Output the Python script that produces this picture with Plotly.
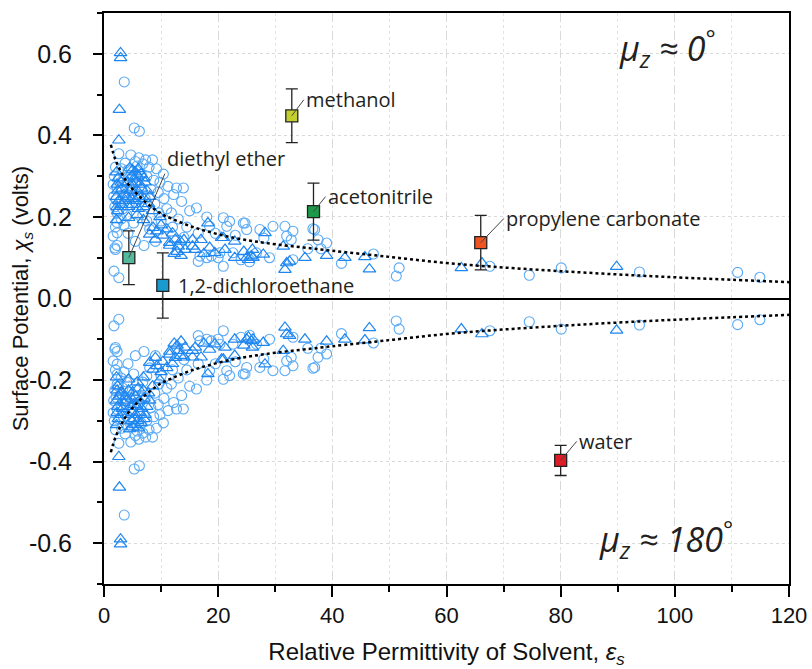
import plotly.graph_objects as go

# ---------------- data (upper branch, mu_z ~ 0 deg; lower branch is its mirror) -------------
circle_eps = [3.55, 5.3, 6.2,
              2.6, 4.7, 6.1, 7.3, 8.5, 3.7, 5.5,
              2.0, 3.1, 4.2, 5.8, 6.8, 7.9, 9.2, 10.4,
              1.8, 2.6, 3.4, 4.5, 6.5, 7.5, 8.7, 9.8, 11.2,
              1.6, 2.3, 3.0, 5.0, 8.2, 9.5, 12.7, 13.9,
              1.7, 2.1, 2.8, 3.8, 6.0, 7.2, 10.5, 12.2, 13.6,
              1.9, 2.5, 3.3, 4.4, 5.6, 8.9, 11.0, 16.2,
              2.3, 2.3, 3.0, 4.0, 6.8, 9.6, 11.8, 15.0, 18.0,
              2.0, 3.5, 5.2, 7.5, 10.0, 13.0, 18.5, 20.9, 21.5,
              2.3, 1.6, 4.2, 8.0, 12.0, 14.5, 24.4, 25.0, 29.6, 31.7, 33.1, 27.3, 22.0, 24.7,
              1.9, 2.3, 2.0, 5.5, 7.0, 9.0, 14.0, 16.5, 19.5, 23.0, 32.0, 28.0,
              1.75, 2.6,
              16.8, 18.0, 20.0, 20.9, 20.3, 16.5, 18.8, 22.6, 26.7, 29.0, 24.0, 25.5,
              32.8, 36.9, 36.6, 37.5, 39.0, 35.7, 38.0, 41.6, 33.1, 47.2, 51.7, 51.2,
              67.6, 74.5, 80.1, 93.8, 111.0, 114.9]
circle_chi = [0.531, 0.418, 0.410,
              0.355, 0.352, 0.345, 0.340, 0.340, 0.332, 0.336,
              0.322, 0.318, 0.315, 0.325, 0.330, 0.322, 0.318, 0.305,
              0.300, 0.295, 0.290, 0.298, 0.305, 0.300, 0.290, 0.285, 0.275,
              0.280, 0.272, 0.265, 0.275, 0.268, 0.260, 0.271, 0.271,
              0.250, 0.242, 0.238, 0.250, 0.255, 0.245, 0.245, 0.255, 0.238,
              0.225, 0.215, 0.220, 0.230, 0.225, 0.232, 0.220, 0.222,
              0.210, 0.186, 0.195, 0.205, 0.205, 0.210, 0.210, 0.215, 0.200,
              0.175, 0.180, 0.185, 0.190, 0.190, 0.195, 0.177, 0.198, 0.177,
              0.161, 0.153, 0.160, 0.170, 0.175, 0.175, 0.185, 0.169, 0.177, 0.177, 0.165, 0.169, 0.189, 0.185,
              0.124, 0.130, 0.120, 0.140, 0.130, 0.140, 0.150, 0.160, 0.160, 0.155, 0.153, 0.148,
              0.067, 0.051,
              0.104, 0.100, 0.100, 0.079, 0.112, 0.091, 0.104, 0.112, 0.112, 0.100, 0.095, 0.090,
              0.144, 0.169, 0.171, 0.144, 0.136, 0.122, 0.122, 0.086, 0.095, 0.109, 0.075, 0.055,
              0.079, 0.057, 0.075, 0.065, 0.064, 0.052]

tri_eps = [2.9, 2.9, 2.7, 2.6,
           2.2, 2.5, 2.3, 3.0, 2.4, 3.2, 2.2, 3.5, 2.6, 2.2, 2.4, 3.0, 3.8, 2.3,
           4.5, 5.0, 5.5, 6.0, 4.8, 5.3, 5.9, 6.5, 7.0, 4.2, 4.9, 5.6, 6.3, 7.2,
           4.6, 5.2, 5.8, 6.6, 7.5, 4.0, 4.8, 5.5, 6.2, 7.0, 8.0, 4.3, 5.0, 6.0,
           6.9, 7.8, 8.5, 4.3, 6.9, 5.8,
           8.6, 9.3, 10.3, 9.0, 10.0, 11.0, 12.0, 8.0, 11.5, 12.5, 13.4, 9.8,
           11.5, 12.8, 13.5, 14.2, 15.5, 16.0, 13.0, 17.5, 18.5, 14.0, 15.5, 17.0, 12.3,
           18.2, 20.6, 20.9, 22.9, 21.2, 22.9, 19.4, 24.5, 25.0, 25.3, 26.0, 25.8, 26.1,
           27.9, 28.2, 31.4, 32.0, 31.7, 32.5, 35.2,
           39.0, 42.2, 45.7, 46.5, 62.6, 66.2, 89.8]
tri_chi = [0.602, 0.590, 0.463, 0.388,
           0.310, 0.295, 0.280, 0.285, 0.265, 0.270, 0.250, 0.255, 0.240, 0.193, 0.215, 0.230, 0.240, 0.225,
           0.320, 0.315, 0.310, 0.318, 0.300, 0.295, 0.300, 0.305, 0.295, 0.285, 0.280, 0.285, 0.280, 0.285,
           0.265, 0.260, 0.265, 0.270, 0.265, 0.250, 0.245, 0.240, 0.250, 0.245, 0.250, 0.225, 0.230, 0.220,
           0.225, 0.232, 0.215, 0.198, 0.193, 0.205,
           0.174, 0.165, 0.155, 0.145, 0.180, 0.170, 0.160, 0.157, 0.137, 0.145, 0.140, 0.200,
           0.130, 0.115, 0.105, 0.120, 0.128, 0.120, 0.128, 0.110, 0.125, 0.144, 0.144, 0.144, 0.110,
           0.185, 0.149, 0.149, 0.140, 0.120, 0.100, 0.112, 0.115, 0.100, 0.095, 0.120, 0.104, 0.100,
           0.108, 0.161, 0.128, 0.087, 0.071, 0.091, 0.100,
           0.105, 0.100, 0.102, 0.072, 0.075, 0.087, 0.078]

fit_eps = [1.2, 2, 3, 4, 5, 6, 8, 10, 12, 15, 18, 22, 26, 30, 35, 40,
           50, 60, 70, 80, 90, 100, 110, 120]
fit_chi = [0.377, 0.340, 0.310, 0.285, 0.268, 0.253, 0.228, 0.208, 0.195, 0.178,
           0.165, 0.151, 0.141, 0.133, 0.125, 0.117, 0.102, 0.087, 0.076, 0.067,
           0.059, 0.052, 0.046, 0.040]

solvents = ["diethyl ether", "1,2-dichloroethane", "methanol", "acetonitrile",
            "propylene carbonate", "water"]
solvent_eps = [4.35, 10.3, 32.9, 36.7, 66.0, 80.0]
solvent_chi = [0.100, 0.032, 0.448, 0.213, 0.137, -0.397]
solvent_err = [0.066, 0.080, 0.066, 0.070, 0.067, 0.037]
solvent_colors = ["#53b99b", "#1a9bd0", "#c2cf2e", "#1b9a48", "#ee5522", "#dd1c25"]

x_tickvals = [0, 20, 40, 60, 80, 100, 120]
x_ticktext = ["0", "20", "40", "60", "80", "100", "120"]
y_tickvals = [0.6, 0.4, 0.2, 0.0, -0.2, -0.4, -0.6]
y_ticktext = ["0.6", "0.4", "0.2", "0.0", "-0.2", "-0.4", "-0.6"]

# label placement (pixel offsets of the label from its square)
label_style = {
    "diethyl ether": dict(ax=36, ay=-84, yanchor="bottom", arrow=True),
    "1,2-dichloroethane": dict(ax=13, ay=0, yanchor="middle", arrow=False),
    "methanol": dict(ax=12, ay=-16, yanchor="middle", arrow=True),
    "acetonitrile": dict(ax=12, ay=-15, yanchor="middle", arrow=True),
    "propylene carbonate": dict(ax=23, ay=-24, yanchor="middle", arrow=True),
    "water": dict(ax=16, ay=-19, yanchor="middle", arrow=True),
}

CIRC = "#5aaaf5"
TRI = "#1f86f0"
TXT = "#231f20"
LABEL_FONT = "Open Sans, Noto Sans, sans-serif"
AXIS_FONT = "Liberation Sans, Arial, sans-serif"

fig = go.Figure()

for sign in (1, -1):
    fig.add_trace(go.Scatter(
        x=circle_eps, y=[sign * v for v in circle_chi], mode="markers",
        marker=dict(symbol="circle-open", size=10, color=CIRC, line=dict(width=1.1, color=CIRC)),
        showlegend=False, hoverinfo="skip"))
    fig.add_trace(go.Scatter(
        x=tri_eps, y=[sign * v for v in tri_chi], mode="markers",
        marker=dict(symbol="triangle-up-open", size=11, color=TRI, line=dict(width=1.2, color=TRI)),
        showlegend=False, hoverinfo="skip"))

for sign in (1, -1):
    fig.add_trace(go.Scatter(
        x=fit_eps, y=[sign * v for v in fit_chi], mode="lines",
        line=dict(color="black", width=2.5, dash="dot", shape="spline"),
        showlegend=False, hoverinfo="skip"))

fig.add_trace(go.Scatter(
    x=solvent_eps, y=solvent_chi, mode="markers", text=solvents,
    marker=dict(symbol="square", size=12, color=solvent_colors, line=dict(width=1.3, color="#222")),
    error_y=dict(type="data", array=solvent_err, visible=True, color="#222", thickness=1.3, width=6),
    showlegend=False))

annotations = []
for name, ex, ch in zip(solvents, solvent_eps, solvent_chi):
    st = label_style[name]
    if st["arrow"]:
        annotations.append(dict(
            x=ex, y=ch, xref="x", yref="y", text=name, showarrow=True,
            ax=st["ax"], ay=st["ay"], xanchor="left", yanchor=st["yanchor"],
            arrowhead=0, arrowwidth=1, arrowcolor="#444", standoff=0,
            font=dict(family=LABEL_FONT, size=20, color=TXT)))
    else:
        annotations.append(dict(
            x=ex, y=ch, xref="x", yref="y", text=name, showarrow=False,
            xanchor="left", yanchor="middle", xshift=st["ax"], yshift=-st["ay"],
            font=dict(family=LABEL_FONT, size=20, color=TXT)))

annotations.append(dict(x=98.8, y=0.612, xref="x", yref="y", showarrow=False,
                        text="<i>μ<sub>z</sub> ≈ 0<sup>°</sup></i>",
                        font=dict(family="Open Sans, sans-serif", size=34, color=TXT)))
annotations.append(dict(x=98.5, y=-0.59, xref="x", yref="y", showarrow=False,
                        text="<i>μ<sub>z</sub> ≈ 180<sup>°</sup></i>",
                        font=dict(family="Open Sans, sans-serif", size=34, color=TXT)))

# y-axis title as a rotated annotation so it can sit where the reference has it
annotations.append(dict(x=-0.12, y=0.5, xref="paper", yref="paper", showarrow=False,
                        textangle=-90, xanchor="center", yanchor="middle",
                        text="Surface Potential, <i>χ<sub>s</sub></i> (volts)",
                        font=dict(size=22, family=AXIS_FONT, color="#111")))

fig.update_layout(
    width=812, height=669,
    margin=dict(l=104, r=23, t=13, b=85),
    paper_bgcolor="white", plot_bgcolor="white",
    annotations=annotations,
    font=dict(family=AXIS_FONT, color="#111"),
)

fig.update_xaxes(
    range=[0, 120], tickvals=x_tickvals, ticktext=x_ticktext, automargin=False,
    ticks="outside", ticklen=11, tickwidth=1.5, tickcolor="black",
    tickfont=dict(size=22, family=AXIS_FONT),
    showline=True, linecolor="black", linewidth=2, mirror=True,
    showgrid=True, gridcolor="#d9d9d9", griddash="dash", gridwidth=1,
    minor=dict(dtick=10, ticks="outside", ticklen=6, tickwidth=1.5, tickcolor="black",
               showgrid=True, gridcolor="#e3e3e3", griddash="dot"),
    zeroline=False,
    title=dict(text="Relative Permittivity of Solvent, <i>ε<sub>s</sub></i>",
               font=dict(size=24, family=AXIS_FONT), standoff=19),
)

fig.update_yaxes(
    range=[-0.7, 0.7], tickvals=y_tickvals, ticktext=y_ticktext, automargin=False,
    ticks="outside", ticklen=9, tickwidth=1.5, tickcolor="black",
    tickfont=dict(size=25, family=AXIS_FONT),
    ticklabelstandoff=16,
    showline=True, linecolor="black", linewidth=2, mirror=True,
    showgrid=True, gridcolor="#d9d9d9", griddash="dot", gridwidth=1,
    minor=dict(dtick=0.1, ticks="outside", ticklen=5, tickwidth=1.5, tickcolor="black", showgrid=False),
    zeroline=True, zerolinecolor="black", zerolinewidth=2,
)

fig.write_html("out.html", config={"displayModeBar": False},
               post_script="document.body.style.margin='0';document.body.style.padding='0';")
